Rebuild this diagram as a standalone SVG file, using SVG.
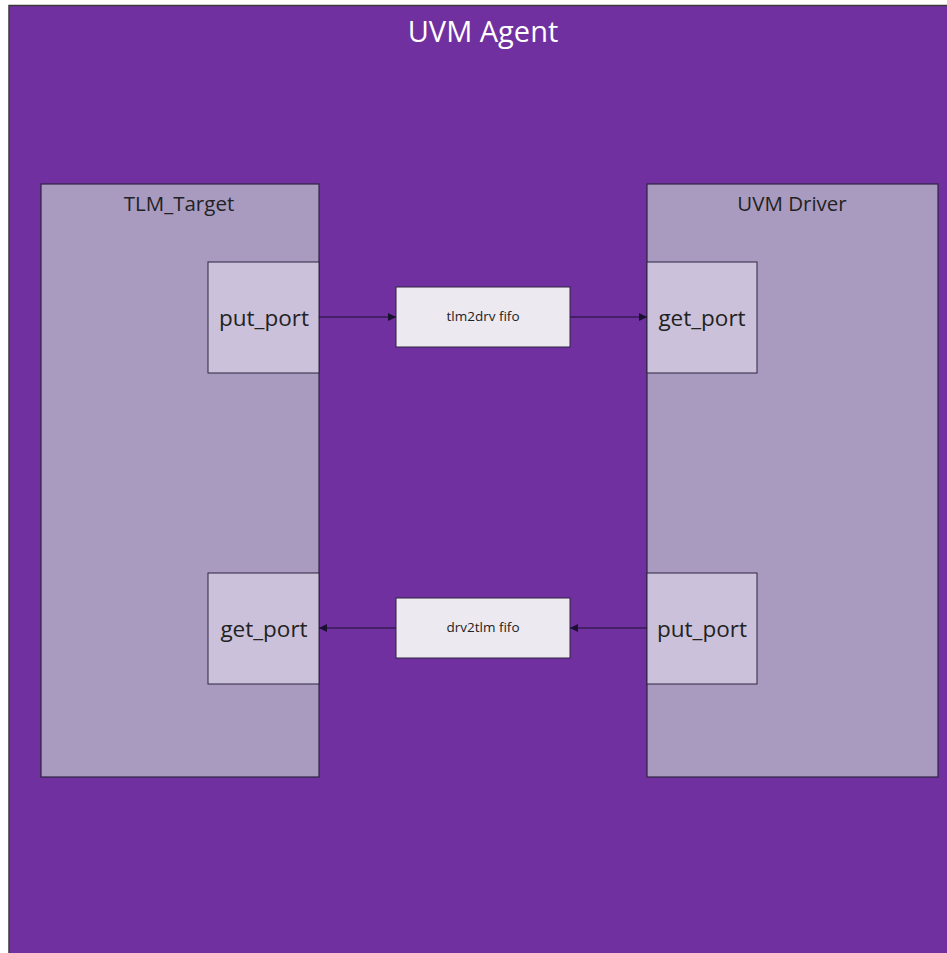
<svg xmlns="http://www.w3.org/2000/svg" width="947" height="953" viewBox="0 0 947 953">
<defs>
<style>
.agent{fill:#7030A0;stroke:#3a3a3a;stroke-width:1.5}
.comp{fill:#A99BC0;stroke:#2e2440;stroke-width:1.2}
.port{fill:#CBC1DA;stroke:#2e2440;stroke-width:1}
.fifo{fill:#ECE9F1;stroke:#2e2440;stroke-width:1}
.t{font-family:"Open Sans","Liberation Sans",sans-serif;fill:#222;text-anchor:middle}
.conn{stroke:#1a1030;stroke-width:1.2;fill:none}
</style>
<marker id="ah" viewBox="0 0 10 10" refX="10" refY="5" markerWidth="8" markerHeight="8" markerUnits="userSpaceOnUse" orient="auto">
<path d="M0,0 L10,5 L0,10 z" fill="#1a1030"/>
</marker>
</defs>
<rect width="947" height="953" fill="#ffffff"/>
<g id="agent">
<rect class="agent" x="9" y="5.5" width="945" height="955"/>
<text class="t" x="483" y="42" font-size="29" style="fill:#ffffff">UVM Agent</text>
</g>
<g id="tlm_target">
<rect class="comp" x="41" y="184" width="278" height="593"/>
<text class="t" x="179" y="211" font-size="20.5">TLM_Target</text>
</g>
<g id="uvm_driver">
<rect class="comp" x="647" y="184" width="291" height="593"/>
<text class="t" x="792" y="211" font-size="20.5">UVM Driver</text>
</g>
<g id="tlm_put_port">
<rect class="port" x="208" y="262" width="111" height="111"/>
<text class="t" x="264" y="326" font-size="22.5">put_port</text>
</g>
<g id="tlm_get_port">
<rect class="port" x="208" y="573" width="111" height="111"/>
<text class="t" x="264" y="637" font-size="22.5">get_port</text>
</g>
<g id="drv_get_port">
<rect class="port" x="647" y="262" width="110" height="111"/>
<text class="t" x="702" y="326" font-size="22.5">get_port</text>
</g>
<g id="drv_put_port">
<rect class="port" x="647" y="573" width="110" height="111"/>
<text class="t" x="702" y="637" font-size="22.5">put_port</text>
</g>
<g id="tlm2drv_fifo">
<rect class="fifo" x="396" y="287" width="174" height="60"/>
<text class="t" x="483" y="321" font-size="13.5">tlm2drv fifo</text>
</g>
<g id="drv2tlm_fifo">
<rect class="fifo" x="396" y="598" width="174" height="60"/>
<text class="t" x="483" y="632" font-size="13.5">drv2tlm fifo</text>
</g>
<g id="connectors">
<line class="conn" x1="319" y1="317" x2="396" y2="317" marker-end="url(#ah)"/>
<line class="conn" x1="570" y1="317" x2="647" y2="317" marker-end="url(#ah)"/>
<line class="conn" x1="647" y1="628" x2="570" y2="628" marker-end="url(#ah)"/>
<line class="conn" x1="396" y1="628" x2="319" y2="628" marker-end="url(#ah)"/>
</g>
</svg>
